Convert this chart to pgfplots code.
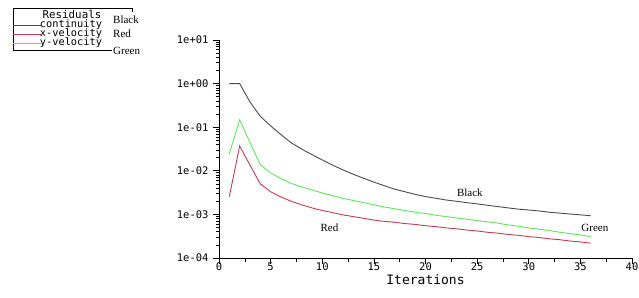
\documentclass[border=0pt]{standalone}
\usepackage{pgfplots}
\pgfplotsset{compat=1.18}
\usepackage{fontspec}
\setmainfont{Liberation Serif}
\newfontfamily\monof{DejaVu Sans Mono}
\definecolor{cblack}{RGB}{75,75,75}
\definecolor{cred}{RGB}{195,60,80}
\definecolor{cgreen}{RGB}{100,225,100}
\begin{document}
\begin{tikzpicture}[x=1pt,y=1pt]
\useasboundingbox (0,0) rectangle (639,297);
\begin{axis}[at={(219pt,39pt)}, anchor=south west, scale only axis,
  width=413pt, height=218pt,
  ymode=log, xmin=0, xmax=40, ymin=1e-4, ymax=10,
  axis lines=left, axis line style={-, black, line width=0.8pt},
  xtick={0,5,...,40}, minor x tick num=1,
  ytick={1e-4,1e-3,1e-2,1e-1,1,10},
  minor ytick={2e-4,3e-4,4e-4,5e-4,6e-4,7e-4,8e-4,9e-4,
    2e-3,3e-3,4e-3,5e-3,6e-3,7e-3,8e-3,9e-3,
    2e-2,3e-2,4e-2,5e-2,6e-2,7e-2,8e-2,9e-2,
    0.2,0.3,0.4,0.5,0.6,0.7,0.8,0.9,
    2,3,4,5,6,7,8,9},
  yticklabels={1e-04,1e-03,1e-02,1e-01,1e+00,1e+01},
  tick align=outside, major tick length=6pt, minor tick length=3.5pt,
  tick style={black, line width=0.7pt},
  minor tick style={black, line width=0.6pt},
  /pgf/number format/assume math mode=true,
  ticklabel style={font=\monof\fontsize{10.5}{11}\selectfont},
  xticklabel style={yshift=5pt},
  yticklabel style={xshift=-1pt},
  xlabel={Iterations},
  xlabel style={font=\monof\fontsize{13}{13}\selectfont, yshift=3pt},
  clip=false,
]
\addplot[cblack, line width=0.9pt] coordinates {
(1,1.0) (2,1.0) (3,0.380) (4,0.178) (5,0.107) (6,0.0676) (7,0.0437) (8,0.0316)
(9,0.0234) (10,0.0178) (11,0.0135) (12,0.0105) (13,0.00832) (14,0.00676)
(15,0.00550) (16,0.00457) (17,0.00380) (18,0.00331) (19,0.00288) (20,0.00257)
(21,0.00234) (22,0.00214) (23,0.00200) (24,0.00186) (25,0.00174) (26,0.00162)
(27,0.00151) (28,0.00141) (29,0.00132) (30,0.00126) (31,0.00120) (32,0.00112)
(33,0.00107) (34,0.00102) (35,0.000977) (36,0.000933)};
\addplot[cgreen, line width=0.9pt] coordinates {
(1,0.0245) (2,0.148) (3,0.0447) (4,0.0138) (5,0.00891) (6,0.00661) (7,0.00513)
(8,0.00427) (9,0.00363) (10,0.00309) (11,0.00269) (12,0.00234) (13,0.00209)
(14,0.00186) (15,0.00166) (16,0.00148) (17,0.00135) (18,0.00123) (19,0.00112)
(20,0.00105) (21,0.000955) (22,0.000891) (23,0.000832) (24,0.000776)
(25,0.000724) (26,0.000676) (27,0.000631) (28,0.000575) (29,0.000537)
(30,0.000490) (31,0.000457) (32,0.000427) (33,0.000389) (34,0.000363)
(35,0.000339) (36,0.000309)};
\addplot[cred, line width=0.9pt] coordinates {
(1,0.00257) (2,0.0372) (3,0.0135) (4,0.00501) (5,0.00331) (6,0.00251) (7,0.00200)
(8,0.00166) (9,0.00141) (10,0.00123) (11,0.00110) (12,0.000977) (13,0.000891)
(14,0.000813) (15,0.000741) (16,0.000692) (17,0.000661) (18,0.000617)
(19,0.000589) (20,0.000550) (21,0.000525) (22,0.000490) (23,0.000468)
(24,0.000437) (25,0.000417) (26,0.000389) (27,0.000372) (28,0.000347)
(29,0.000331) (30,0.000309) (31,0.000295) (32,0.000275) (33,0.000263)
(34,0.000245) (35,0.000234) (36,0.000219)};
\node[font=\fontsize{11}{11}\selectfont] at (axis cs:24.3,0.00316) {Black};
\node[font=\fontsize{11}{11}\selectfont] at (axis cs:10.7,0.0005) {Red};
\node[font=\fontsize{11}{11}\selectfont] at (axis cs:36.4,0.0005) {Green};
\end{axis}
% legend box
\draw[black, line width=0.6pt] (132,285) -- (132,289) -- (13,289) -- (13,247) -- (112,247);
\draw[cblack, line width=0.9pt] (13,272) -- (42,272);
\draw[cred, line width=0.9pt] (13,263) -- (41,263);
\draw[cgreen, line width=0.9pt] (13,254) -- (41,254);
\node[font=\monof\fontsize{10.8}{11}\selectfont, inner sep=0pt] at (72,283) {Residuals};
\node[font=\monof\fontsize{10.3}{11}\selectfont, inner sep=0pt] at (71,272.5) {continuity};
\node[font=\monof\fontsize{10.3}{11}\selectfont, inner sep=0pt] at (71,263.5) {x-velocity};
\node[font=\monof\fontsize{10.3}{11}\selectfont, inner sep=0pt] at (71,254.5) {y-velocity};
\node[font=\fontsize{11}{11}\selectfont, anchor=west, inner sep=0pt] at (113,277) {Black};
\node[font=\fontsize{11}{11}\selectfont, anchor=west, inner sep=0pt] at (113,263) {Red};
\node[font=\fontsize{11}{11}\selectfont, anchor=west, inner sep=0pt] at (113,246) {Green};
\end{tikzpicture}
\end{document}
